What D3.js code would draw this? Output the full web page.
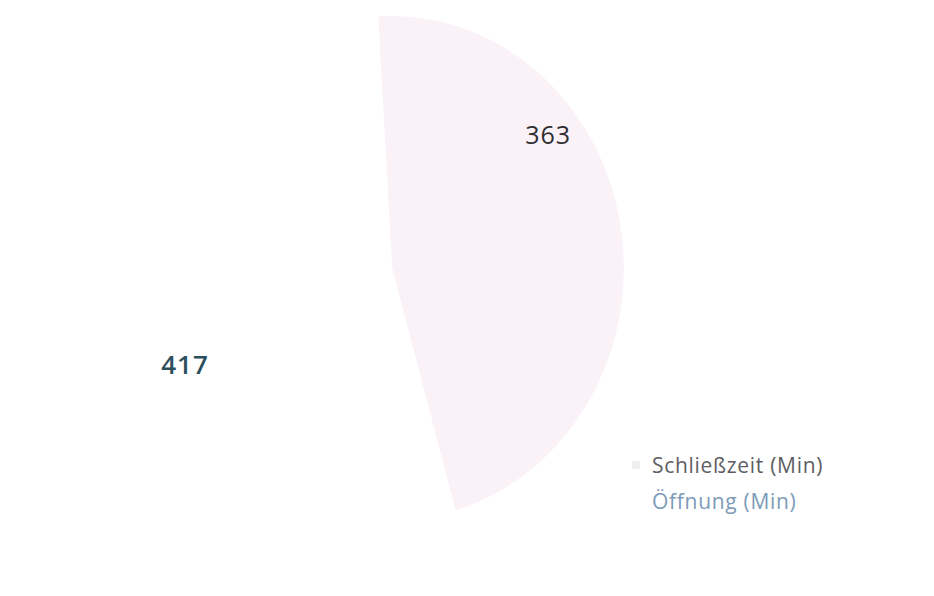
<!DOCTYPE html>
<html>
<head>
<meta charset="utf-8">
<script src="https://cdn.jsdelivr.net/npm/d3@7"></script>
<style>
  body { margin: 0; background: #fff; }
  svg { display: block; font-family: "Open Sans", "Noto Sans", sans-serif; }
</style>
</head>
<body>
<div id="plot"></div>
<script>
// data
const categories = ["Schließzeit (Min)", "Öffnung (Min)"];
const values = [363, 417];
const sliceColors = ["#fbf2f8", "#ffffff"];
const labelColors = ["#2e2e33", "#2c4f5c"];
const legendColors = ["#5e5e62", "#7d9bb8"];

const width = 934, height = 596;
const cx = 392, cy = 268, radius = 252;

const svg = d3.select("#plot")
    .append("svg")
    .attr("width", width)
    .attr("height", height);

svg.append("rect")
    .attr("width", width)
    .attr("height", height)
    .attr("fill", "#fff");

const pie = d3.pie()
    .sort(null)
    .startAngle(-0.06)
    .endAngle(2 * Math.PI - 0.06);

const arcs = pie(values);

const arc = d3.arc().innerRadius(0).outerRadius(radius);

// pie looks a bit squeezed horizontally in the scan
const g = svg.append("g")
    .attr("transform", `translate(${cx},${cy}) scale(0.92,1)`);

g.selectAll("path")
    .data(arcs)
    .join("path")
    .attr("d", arc)
    .attr("fill", (d, i) => sliceColors[i]);

// data labels, placed roughly where excel put them
const labelAngle = [0.86, 4.28];
const labelRadius = [206, 228];
svg.selectAll(".lbl")
    .data(arcs)
    .join("text")
    .attr("class", "lbl")
    .attr("x", (d, i) => cx + labelRadius[i] * Math.sin(labelAngle[i]))
    .attr("y", (d, i) => cy - labelRadius[i] * Math.cos(labelAngle[i]))
    .attr("text-anchor", "middle")
    .attr("dominant-baseline", "central")
    .attr("fill", (d, i) => labelColors[i])
    .style("font-size", (d, i) => i === 1 ? "26px" : "25px")
    .style("letter-spacing", "1px")
    .style("font-weight", (d, i) => i === 1 ? 600 : 400)
    .text(d => d.data);

// legend
const legend = svg.append("g")
    .attr("transform", "translate(636,465)");

const item = legend.selectAll("g")
    .data(categories)
    .join("g")
    .attr("transform", (d, i) => `translate(0,${i * 36})`);

item.append("rect")
    .attr("x", -4)
    .attr("y", -4)
    .attr("width", 8)
    .attr("height", 8)
    .attr("fill", (d, i) => i === 0 ? "#f1eef0" : "#fff");

item.append("text")
    .attr("x", 16)
    .attr("dominant-baseline", "central")
    .attr("fill", (d, i) => legendColors[i])
    .style("font-size", "21px")
    .style("letter-spacing", "0.7px")
    .text(d => d);
</script>
</body>
</html>
